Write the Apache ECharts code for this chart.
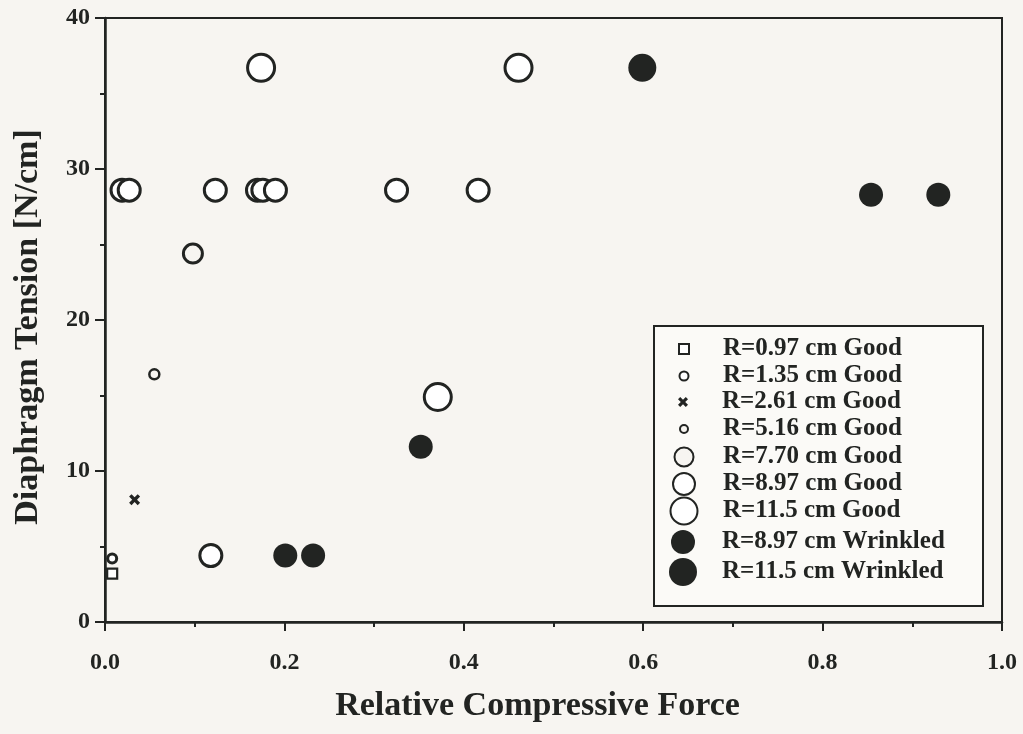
<!DOCTYPE html>
<html>
<head>
<meta charset="utf-8">
<script src="https://cdn.jsdelivr.net/npm/echarts@6/dist/echarts.min.js"></script>
<style>
html,body{margin:0;padding:0;background:#f7f5f1;}
#chart{width:1023px;height:734px;}
</style>
</head>
<body>
<div id="chart"></div>
<script>
// ---- data ----
const xTicks = [0, 0.2, 0.4, 0.6, 0.8, 1.0];
const yTicks = [0, 10, 20, 30, 40];
const seriesNames = [
  'R=0.97 cm Good', 'R=1.35 cm Good', 'R=2.61 cm Good', 'R=5.16 cm Good',
  'R=7.70 cm Good', 'R=8.97 cm Good', 'R=11.5 cm Good',
  'R=8.97 cm Wrinkled', 'R=11.5 cm Wrinkled'
];
const r097Good = [[0.008, 3.2]];
const r135Good = [[0.008, 4.2]];
const r261Good = [[0.033, 8.1]];
const r516Good = [[0.055, 16.4]];
const r770Good = [[0.098, 24.4]];
const r897Good = [[0.019, 28.6], [0.027, 28.6], [0.123, 28.6], [0.170, 28.6], [0.176, 28.6], [0.190, 28.6], [0.325, 28.6], [0.416, 28.6], [0.118, 4.4]];
const r115Good = [[0.174, 36.7], [0.461, 36.7], [0.371, 14.9]];
const r897Wrinkled = [[0.201, 4.4], [0.232, 4.4], [0.352, 11.6], [0.854, 28.3], [0.929, 28.3]];
const r115Wrinkled = [[0.599, 36.7]];

const ink = '#222422';
const bg = '#f7f5f1';
const serif = '"Liberation Serif", "DejaVu Serif", serif';
const xPath = 'path://M0,2.2 L2.2,0 L5,2.8 L7.8,0 L10,2.2 L7.2,5 L10,7.8 L7.8,10 L5,7.2 L2.2,10 L0,7.8 L2.8,5 Z';

const specs = [
  {data: r097Good, symbol: 'rect', size: 10, fill: '#ffffff', bw: 2.2},
  {data: r135Good, symbol: 'circle', size: 9, fill: '#ffffff', bw: 3},
  {data: r261Good, symbol: xPath, size: 11, fill: ink, bw: 0},
  {data: r516Good, symbol: 'circle', size: 10, fill: bg, bw: 2.5},
  {data: r770Good, symbol: 'circle', size: 19, fill: bg, bw: 3},
  {data: r897Good, symbol: 'circle', size: 22, fill: '#ffffff', bw: 3},
  {data: r115Good, symbol: 'circle', size: 27, fill: '#ffffff', bw: 3},
  {data: r897Wrinkled, symbol: 'circle', size: 24, fill: ink, bw: 0},
  {data: r115Wrinkled, symbol: 'circle', size: 28, fill: ink, bw: 0}
];
const legendSizes = [[10,10],[9,9],[10,10],[8,8],[19,19],[22,22],[27,27],[24,24],[28,28]];
const legendRowCenters = [349, 376, 402, 429, 457, 484, 511, 542, 572];

const series = specs.map((s, i) => ({
  name: seriesNames[i],
  type: 'scatter',
  data: s.data,
  symbol: s.symbol,
  symbolSize: s.size,
  itemStyle: {color: s.fill, borderColor: ink, borderWidth: s.bw, opacity: 1},
  emphasis: {disabled: true},
  z: 3
}));

const iconCx = 683, textX = 722, lh = 30;
const legends = seriesNames.map((n, i) => {
  const w = legendSizes[i][0], h = legendSizes[i][1];
  const left = iconCx - w / 2;
  const pad = textX - (left + w + 5);
  return {
    data: [n],
    left: left,
    top: legendRowCenters[i] - Math.max(h, lh) / 2,
    itemWidth: w, itemHeight: h,
    padding: 0,
    selectedMode: false,
    textStyle: {fontFamily: serif, fontWeight: 'bold', fontSize: 25, color: ink, padding: [0, 0, 0, pad], lineHeight: lh}
  };
});

const chart = echarts.init(document.getElementById('chart'), null, {renderer: 'canvas'});
chart.setOption({
  backgroundColor: bg,
  animation: false,
  grid: {left: 105, right: 21, top: 18, bottom: 112, show: true, borderColor: ink, borderWidth: 2, backgroundColor: 'transparent'},
  xAxis: {
    type: 'value', min: xTicks[0], max: xTicks[xTicks.length - 1], interval: 0.2,
    name: 'Relative Compressive Force', nameLocation: 'middle', nameGap: 67,
    nameTextStyle: {fontFamily: serif, fontWeight: 'bold', fontSize: 34, color: ink, padding: [0, 32, 0, 0]},
    axisLine: {show: true, onZero: false, lineStyle: {color: ink, width: 2.5}},
    axisTick: {show: true, inside: false, length: 9, lineStyle: {color: ink, width: 2}},
    minorTick: {show: true, splitNumber: 2, length: 5, lineStyle: {color: ink, width: 2}},
    axisLabel: {margin: 29, fontFamily: serif, fontWeight: 'bold', fontSize: 24, color: ink,
      formatter: v => v.toFixed(1)},
    splitLine: {show: false}
  },
  yAxis: {
    type: 'value', min: yTicks[0], max: yTicks[yTicks.length - 1], interval: 10,
    name: 'Diaphragm Tension [N/cm]', nameLocation: 'middle', nameGap: 60,
    nameTextStyle: {fontFamily: serif, fontWeight: 'bold', fontSize: 34, color: ink, padding: [0, 14, 0, 0]},
    axisLine: {show: true, onZero: false, lineStyle: {color: ink, width: 2.5}},
    axisTick: {show: true, inside: false, length: 10, lineStyle: {color: ink, width: 2}},
    minorTick: {show: true, splitNumber: 2, length: 5, lineStyle: {color: ink, width: 2}},
    axisLabel: {margin: 15, fontFamily: serif, fontWeight: 'bold', fontSize: 24, color: ink},
    splitLine: {show: false}
  },
  legend: legends,
  graphic: [{
    type: 'rect', left: 653, top: 325, z: 1,
    shape: {width: 329, height: 280},
    style: {fill: '#fbfaf7', stroke: ink, lineWidth: 2}
  }],
  series: series
});
</script>
</body>
</html>
